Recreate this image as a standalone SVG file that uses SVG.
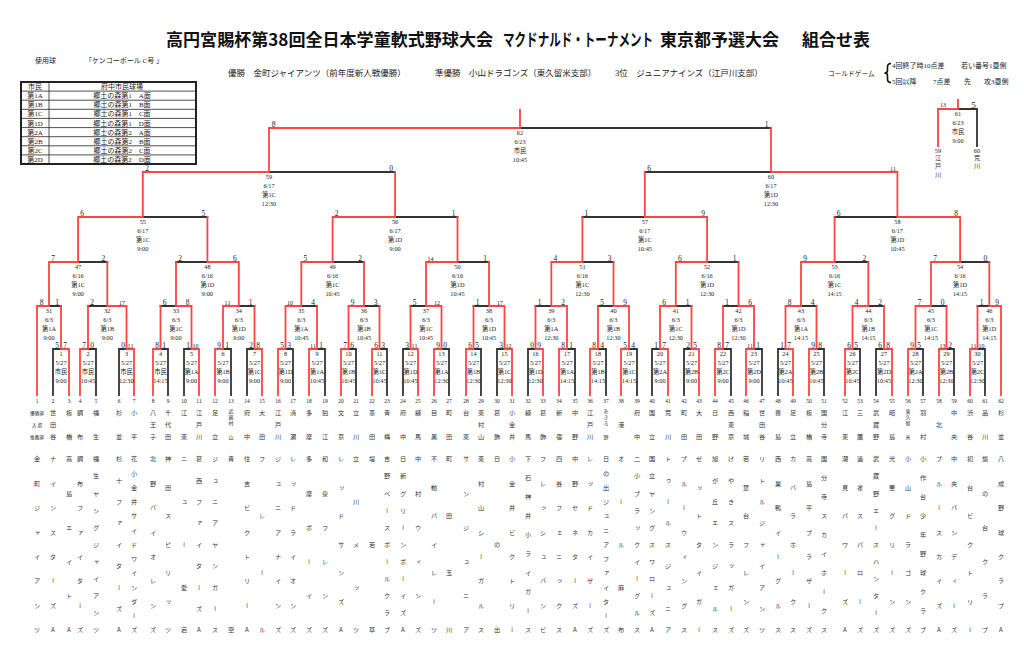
<svg xmlns="http://www.w3.org/2000/svg" width="1024" height="645" viewBox="0 0 1024 645">
<style>
text{font-family:"Liberation Serif","Noto Sans CJK JP",serif;fill:#222}
.ttl{font-family:"Noto Sans CJK JP",sans-serif;font-weight:bold;font-size:17px;fill:#111}
.h{font-size:8.5px}
.h7{font-size:7px}
.m{font-size:6.3px;text-anchor:middle}
.s{font-size:7.5px;text-anchor:middle}
.s2{font-size:6px;text-anchor:middle}
.s9{font-size:9px;text-anchor:middle}
.n{font-size:5.5px;text-anchor:middle}
.v{font-family:"Noto Sans CJK JP",sans-serif;font-size:6.2px;writing-mode:vertical-rl;text-orientation:upright;text-anchor:middle;fill:#333}
.v4{font-size:5px}
.lb{font-family:"Noto Sans CJK JP",sans-serif;font-size:4.6px;text-anchor:middle}
.tc{font-size:7px;text-anchor:middle}
.r{fill:none;stroke:#f44;stroke-width:1.8;stroke-linecap:square}
.k{fill:none;stroke:#333;stroke-width:1.8;stroke-linecap:square}
.tb{fill:none;stroke:#222;stroke-width:0.8}
.tbo{fill:none;stroke:#222;stroke-width:2}
</style>
<rect width="1024" height="645" fill="#fff"/>

<g id="header">
<text class="ttl" x="166" y="46" textLength="327" lengthAdjust="spacingAndGlyphs">高円宮賜杯第38回全日本学童軟式野球大会</text>
<text class="ttl" transform="translate(503 46) scale(0.68 1)" x="0" y="0">マクドナルド・トーナメント</text>
<text class="ttl" x="660" y="46">東京都予選大会</text>
<text class="ttl" x="802" y="46">組合せ表</text>
<text class="h7" x="35" y="62.5">使用球</text>
<text class="h7" x="85" y="62.5">「ケンコーボール C号 」</text>
<text class="h" x="228" y="76">優勝　金町ジャイアンツ（前年度新人戦優勝）</text>
<text class="h" x="435" y="76">準優勝　小山ドラゴンズ（東久留米支部）</text>
<text class="h" x="615" y="76">3位　ジュニアナインズ（江戸川支部）</text>
<text x="828" y="75.5" style="font-size:6.7px">コールドゲーム</text>
<path d="M891 63.5Q887.5 63.5 887.5 67V70.5Q887.5 73 884.5 73Q887.5 73 887.5 75.5V79Q887.5 82.5 891 82.5" fill="none" stroke="#111" stroke-width="1.6"/>
<text class="h7" x="892" y="67.5">4回終了時10点差</text>
<text class="h7" x="961" y="67.5">若い番号1塁側</text>
<text class="h7" x="892" y="83.5">5回以降</text>
<text class="h7" x="933" y="83.5">7点差</text>
<text class="h7" x="964" y="83.5">先</text>
<text class="h7" x="984" y="83.5">攻3塁側</text>
</g>

<g id="venue-table">
<rect class="tbo" x="21" y="82" width="175" height="82"/>
<path class="tb" d="M49 82V164M21 91.1H196M21 100.2H196M21 109.3H196M21 118.4H196M21 127.6H196M21 136.7H196M21 145.8H196M21 154.9H196"/>
<text class="tc" x="35" y="89.1">市民</text><text class="tc" x="122" y="89.1">府中市民球場</text>
<text class="tc" x="35" y="98.2">第1A</text><text class="tc" x="122" y="98.2">郷土の森第1　A面</text>
<text class="tc" x="35" y="107.3">第1B</text><text class="tc" x="122" y="107.3">郷土の森第1　B面</text>
<text class="tc" x="35" y="116.4">第1C</text><text class="tc" x="122" y="116.4">郷土の森第1　C面</text>
<text class="tc" x="35" y="125.5">第1D</text><text class="tc" x="122" y="125.5">郷土の森第1　D面</text>
<text class="tc" x="35" y="134.6">第2A</text><text class="tc" x="122" y="134.6">郷土の森第2　A面</text>
<text class="tc" x="35" y="143.7">第2B</text><text class="tc" x="122" y="143.7">郷土の森第2　B面</text>
<text class="tc" x="35" y="152.8">第2C</text><text class="tc" x="122" y="152.8">郷土の森第2　C面</text>
<text class="tc" x="35" y="161.9">第2D</text><text class="tc" x="122" y="161.9">郷土の森第2　D面</text>
</g>

<g id="connectors">
<path class="k" d="M520 128H771M958 109H977V146M269 172H395.1M644.8 172H771M142.8 217H207.4M395.1 217H457.5M582.4 217H644.8M834.6 217H897.4M78.1 262H107.3M176 262H207.4M332.6 262H364M457.5 262H489M582.4 262H613.5M707.1 262H738.5M834.6 262H868.3M960.1 262H989.3M49 306H61M88 306H107.3M160.5 306H176M238.8 306H254.5M301.3 306H317M364 306H379.5M410.5 306H426M473.5 306H489M535.5 306H551.3M598 306H613.5M675.8 306H691.5M723 306H738.5M801 306H816.5M868.3 306H884M931 306H946.5M977.5 306H989.3M61 349H53V395M88 349H96V395M126.5 349H119V395M160.5 349H168V395M191.5 349H184V395M223 349H231V395M254.5 349H247V395M285.5 349H293V395M317 349H325V395M348.5 349H356V395M379.5 349H387V395M410.5 349H403V395M441.5 349H449V395M473.5 349H481V395M504.5 349H497V395M535.5 349H528V395M567 349H575V395M598 349H606V395M629 349H637V395M660 349H652V395M691.5 349H684V395M723 349H731V395M754 349H762V395M785.5 349H778V395M816.5 349H824V395M852.5 349H860V395M884 349H876V395M915.5 349H923V395M946.5 349H954V395M977.5 349H985V395"/>
<path class="r" d="M269 172V128H520V110M771 172V128M938 146V109H958V100M142.8 217V172H269M395.1 217V172M644.8 217V172M897.4 217V172H771M78.1 262V217H142.8M207.4 262V217M332.6 262V217H395.1M457.5 262V217M582.4 262V217M707.1 262V217H644.8M834.6 262V217M960.1 262V217H897.4M49 306V262H78.1M107.3 306V262M176 306V262M238.8 306V262H207.4M301.3 306V262H332.6M364 306V262M426 306V262H457.5M489 306V262M551.3 306V262H582.4M613.5 306V262M675.8 306V262H707.1M738.5 306V262M801 306V262H834.6M868.3 306V262M931 306V262H960.1M989.3 306V262M37 395V306H49M61 349V306M88 349V306M126.5 349V306H107.3M160.5 349V306M191.5 349V306H176M223 349V306H238.8M254.5 349V306M285.5 349V306H301.3M317 349V306M348.5 349V306H364M379.5 349V306M410.5 349V306M441.5 349V306H426M473.5 349V306M504.5 349V306H489M535.5 349V306M567 349V306H551.3M598 349V306M629 349V306H613.5M660 349V306H675.8M691.5 349V306M723 349V306M754 349V306H738.5M785.5 349V306H801M816.5 349V306M852.5 349V306H868.3M884 349V306M915.5 349V306H931M946.5 349V306M977.5 349V306M1001 395V306H989.3M69 395V349H61M80 395V349H88M134 395V349H126.5M153 395V349H160.5M199 395V349H191.5M215 395V349H223M262 395V349H254.5M278 395V349H285.5M309 395V349H317M341 395V349H348.5M372 395V349H379.5M418 395V349H410.5M434 395V349H441.5M466 395V349H473.5M512 395V349H504.5M543 395V349H535.5M559 395V349H567M590 395V349H598M621 395V349H629M668 395V349H660M699 395V349H691.5M715 395V349H723M746 395V349H754M793 395V349H785.5M809 395V349H816.5M845 395V349H852.5M892 395V349H884M908 395V349H915.5M939 395V349H946.5M970 395V349H977.5"/>
</g>

<g id="m62"><text class="m" y="134.5"><tspan x="520">62</tspan><tspan x="520" dy="9">6/23</tspan><tspan x="520" dy="9">市民</tspan><tspan x="520" dy="9">10:45</tspan></text><text class="s" x="273.5" y="126.5">8</text><text class="s" x="766.5" y="126.5">1</text></g>
<g id="m61"><text class="m" y="115.5"><tspan x="958">61</tspan><tspan x="958" dy="9">6/23</tspan><tspan x="958" dy="9">市民</tspan><tspan x="958" dy="9">9:00</tspan></text><text class="s2" x="943" y="107">13</text><text class="s9" x="973.5" y="107.5">5</text>
<text class="m" x="938" y="152.5">59</text><text class="v" x="938" y="157.5 166 174.5">江戸川</text>
<text class="m" x="977" y="152.5">60</text><text class="v" x="977" y="157.5 166">荒川</text></g>
<g id="m59"><text class="m" y="178.5"><tspan x="269">59</tspan><tspan x="269" dy="9">6/17</tspan><tspan x="269" dy="9">第1C</tspan><tspan x="269" dy="9">12:30</tspan></text><text class="s" x="147" y="170.5">2</text><text class="s" x="391" y="170.5">0</text></g>
<g id="m60"><text class="m" y="178.5"><tspan x="771">60</tspan><tspan x="771" dy="9">6/17</tspan><tspan x="771" dy="9">第1D</tspan><tspan x="771" dy="9">12:30</tspan></text><text class="s" x="649" y="170.5">6</text><text class="s2" x="893" y="170.5">11</text></g>
<g id="m55"><text class="m" y="223.5"><tspan x="142.8">55</tspan><tspan x="142.8" dy="9">6/17</tspan><tspan x="142.8" dy="9">第1C</tspan><tspan x="142.8" dy="9">9:00</tspan></text><text class="s" x="82" y="215.5">6</text><text class="s" x="203.4" y="215.5">5</text></g>
<g id="m56"><text class="m" y="223.5"><tspan x="395.1">56</tspan><tspan x="395.1" dy="9">6/17</tspan><tspan x="395.1" dy="9">第1D</tspan><tspan x="395.1" dy="9">9:00</tspan></text><text class="s" x="336.6" y="215.5">2</text><text class="s" x="453.5" y="215.5">1</text></g>
<g id="m57"><text class="m" y="223.5"><tspan x="644.8">57</tspan><tspan x="644.8" dy="9">6/17</tspan><tspan x="644.8" dy="9">第1C</tspan><tspan x="644.8" dy="9">10:45</tspan></text><text class="s" x="586.4" y="215.5">1</text><text class="s" x="703.1" y="215.5">9</text></g>
<g id="m58"><text class="m" y="223.5"><tspan x="897.4">58</tspan><tspan x="897.4" dy="9">6/17</tspan><tspan x="897.4" dy="9">第1D</tspan><tspan x="897.4" dy="9">10:45</tspan></text><text class="s" x="838.6" y="215.5">6</text><text class="s" x="956.1" y="215.5">8</text></g>
<g id="m47"><text class="m" y="268.5"><tspan x="78.1">47</tspan><tspan x="78.1" dy="9">6/16</tspan><tspan x="78.1" dy="9">第1C</tspan><tspan x="78.1" dy="9">9:00</tspan></text><text class="s" x="53" y="260.5">7</text><text class="s" x="103.3" y="260.5">2</text></g>
<g id="m48"><text class="m" y="268.5"><tspan x="207.4">48</tspan><tspan x="207.4" dy="9">6/16</tspan><tspan x="207.4" dy="9">第1D</tspan><tspan x="207.4" dy="9">9:00</tspan></text><text class="s" x="180" y="260.5">2</text><text class="s" x="234.8" y="260.5">6</text></g>
<g id="m49"><text class="m" y="268.5"><tspan x="332.6">49</tspan><tspan x="332.6" dy="9">6/16</tspan><tspan x="332.6" dy="9">第1C</tspan><tspan x="332.6" dy="9">10:45</tspan></text><text class="s" x="305.3" y="260.5">5</text><text class="s" x="360" y="260.5">2</text></g>
<g id="m50"><text class="m" y="268.5"><tspan x="457.5">50</tspan><tspan x="457.5" dy="9">6/16</tspan><tspan x="457.5" dy="9">第1D</tspan><tspan x="457.5" dy="9">10:45</tspan></text><text class="s2" x="430.5" y="260.5">14</text><text class="s" x="485" y="260.5">1</text></g>
<g id="m51"><text class="m" y="268.5"><tspan x="582.4">51</tspan><tspan x="582.4" dy="9">6/16</tspan><tspan x="582.4" dy="9">第1C</tspan><tspan x="582.4" dy="9">12:30</tspan></text><text class="s" x="555.3" y="260.5">4</text><text class="s" x="609.5" y="260.5">3</text></g>
<g id="m52"><text class="m" y="268.5"><tspan x="707.1">52</tspan><tspan x="707.1" dy="9">6/16</tspan><tspan x="707.1" dy="9">第1D</tspan><tspan x="707.1" dy="9">12:30</tspan></text><text class="s" x="679.8" y="260.5">6</text><text class="s" x="734.5" y="260.5">1</text></g>
<g id="m53"><text class="m" y="268.5"><tspan x="834.6">53</tspan><tspan x="834.6" dy="9">6/16</tspan><tspan x="834.6" dy="9">第1C</tspan><tspan x="834.6" dy="9">14:15</tspan></text><text class="s" x="805" y="260.5">9</text><text class="s" x="864.3" y="260.5">2</text></g>
<g id="m54"><text class="m" y="268.5"><tspan x="960.1">54</tspan><tspan x="960.1" dy="9">6/16</tspan><tspan x="960.1" dy="9">第1D</tspan><tspan x="960.1" dy="9">14:15</tspan></text><text class="s" x="935" y="260.5">7</text><text class="s" x="985.3" y="260.5">0</text></g>
<g id="m31"><text class="m" y="312.5"><tspan x="49">31</tspan><tspan x="49" dy="9">6/3</tspan><tspan x="49" dy="9">第1A</tspan><tspan x="49" dy="9">9:00</tspan></text><text class="s" x="41.5" y="304.5">8</text><text class="s" x="57" y="304.5">1</text></g>
<g id="m32"><text class="m" y="312.5"><tspan x="107.3">32</tspan><tspan x="107.3" dy="9">6/3</tspan><tspan x="107.3" dy="9">第1B</tspan><tspan x="107.3" dy="9">9:00</tspan></text><text class="s" x="92" y="304.5">2</text><text class="s2" x="122" y="304.5">17</text></g>
<g id="m33"><text class="m" y="312.5"><tspan x="176">33</tspan><tspan x="176" dy="9">6/3</tspan><tspan x="176" dy="9">第1C</tspan><tspan x="176" dy="9">9:00</tspan></text><text class="s" x="164.5" y="304.5">6</text><text class="s" x="187.5" y="304.5">8</text></g>
<g id="m34"><text class="m" y="312.5"><tspan x="238.8">34</tspan><tspan x="238.8" dy="9">6/3</tspan><tspan x="238.8" dy="9">第1D</tspan><tspan x="238.8" dy="9">9:00</tspan></text><text class="s2" x="227.5" y="304.5">11</text><text class="s" x="250.5" y="304.5">1</text></g>
<g id="m35"><text class="m" y="312.5"><tspan x="301.3">35</tspan><tspan x="301.3" dy="9">6/3</tspan><tspan x="301.3" dy="9">第1A</tspan><tspan x="301.3" dy="9">10:45</tspan></text><text class="s2" x="290" y="304.5">10</text><text class="s" x="313" y="304.5">4</text></g>
<g id="m36"><text class="m" y="312.5"><tspan x="364">36</tspan><tspan x="364" dy="9">6/3</tspan><tspan x="364" dy="9">第1B</tspan><tspan x="364" dy="9">10:45</tspan></text><text class="s" x="352.5" y="304.5">9</text><text class="s" x="375.5" y="304.5">3</text></g>
<g id="m37"><text class="m" y="312.5"><tspan x="426">37</tspan><tspan x="426" dy="9">6/3</tspan><tspan x="426" dy="9">第1C</tspan><tspan x="426" dy="9">10:45</tspan></text><text class="s" x="414.5" y="304.5">5</text><text class="s2" x="437" y="304.5">12</text></g>
<g id="m38"><text class="m" y="312.5"><tspan x="489">38</tspan><tspan x="489" dy="9">6/3</tspan><tspan x="489" dy="9">第1D</tspan><tspan x="489" dy="9">10:45</tspan></text><text class="s" x="477.5" y="304.5">1</text><text class="s2" x="500" y="304.5">17</text></g>
<g id="m39"><text class="m" y="312.5"><tspan x="551.3">39</tspan><tspan x="551.3" dy="9">6/3</tspan><tspan x="551.3" dy="9">第1A</tspan><tspan x="551.3" dy="9">12:30</tspan></text><text class="s" x="539.5" y="304.5">1</text><text class="s" x="563" y="304.5">2</text></g>
<g id="m40"><text class="m" y="312.5"><tspan x="613.5">40</tspan><tspan x="613.5" dy="9">6/3</tspan><tspan x="613.5" dy="9">第1B</tspan><tspan x="613.5" dy="9">12:30</tspan></text><text class="s" x="602" y="304.5">5</text><text class="s" x="625" y="304.5">9</text></g>
<g id="m41"><text class="m" y="312.5"><tspan x="675.8">41</tspan><tspan x="675.8" dy="9">6/3</tspan><tspan x="675.8" dy="9">第1C</tspan><tspan x="675.8" dy="9">12:30</tspan></text><text class="s" x="664" y="304.5">6</text><text class="s" x="687.5" y="304.5">1</text></g>
<g id="m42"><text class="m" y="312.5"><tspan x="738.5">42</tspan><tspan x="738.5" dy="9">6/3</tspan><tspan x="738.5" dy="9">第1D</tspan><tspan x="738.5" dy="9">12:30</tspan></text><text class="s" x="727" y="304.5">1</text><text class="s" x="750" y="304.5">6</text></g>
<g id="m43"><text class="m" y="312.5"><tspan x="801">43</tspan><tspan x="801" dy="9">6/3</tspan><tspan x="801" dy="9">第1A</tspan><tspan x="801" dy="9">14:15</tspan></text><text class="s" x="789.5" y="304.5">8</text><text class="s" x="812.5" y="304.5">4</text></g>
<g id="m44"><text class="m" y="312.5"><tspan x="868.3">44</tspan><tspan x="868.3" dy="9">6/3</tspan><tspan x="868.3" dy="9">第1B</tspan><tspan x="868.3" dy="9">14:15</tspan></text><text class="s" x="856.5" y="304.5">4</text><text class="s" x="880" y="304.5">2</text></g>
<g id="m45"><text class="m" y="312.5"><tspan x="931">45</tspan><tspan x="931" dy="9">6/3</tspan><tspan x="931" dy="9">第1C</tspan><tspan x="931" dy="9">14:15</tspan></text><text class="s" x="919.5" y="304.5">7</text><text class="s" x="942.5" y="304.5">0</text></g>
<g id="m46"><text class="m" y="312.5"><tspan x="989.3">46</tspan><tspan x="989.3" dy="9">6/3</tspan><tspan x="989.3" dy="9">第1D</tspan><tspan x="989.3" dy="9">14:15</tspan></text><text class="s" x="981.5" y="304.5">1</text><text class="s" x="997" y="304.5">9</text></g>

<g id="m1"><text class="m" y="355.5"><tspan x="61">1</tspan><tspan x="61" dy="9">5/27</tspan><tspan x="61" dy="9">市民</tspan><tspan x="61" dy="9">9:00</tspan></text><text class="s" x="57" y="347.5">5</text><text class="s" x="65" y="347.5">7</text></g>
<g id="m2"><text class="m" y="355.5"><tspan x="88">2</tspan><tspan x="88" dy="9">5/27</tspan><tspan x="88" dy="9">市民</tspan><tspan x="88" dy="9">10:45</tspan></text><text class="s" x="84" y="347.5">7</text><text class="s" x="92" y="347.5">0</text></g>
<g id="m3"><text class="m" y="355.5"><tspan x="126.5">3</tspan><tspan x="126.5" dy="9">5/27</tspan><tspan x="126.5" dy="9">市民</tspan><tspan x="126.5" dy="9">12:30</tspan></text><text class="s" x="123" y="347.5">0</text><text class="s2" x="130.5" y="347.5">11</text></g>
<g id="m4"><text class="m" y="355.5"><tspan x="160.5">4</tspan><tspan x="160.5" dy="9">5/27</tspan><tspan x="160.5" dy="9">市民</tspan><tspan x="160.5" dy="9">14:15</tspan></text><text class="s" x="157" y="347.5">8</text><text class="s" x="164" y="347.5">1</text></g>
<g id="m5"><text class="m" y="355.5"><tspan x="191.5">5</tspan><tspan x="191.5" dy="9">5/27</tspan><tspan x="191.5" dy="9">第1A</tspan><tspan x="191.5" dy="9">9:00</tspan></text><text class="s" x="188" y="347.5">1</text><text class="s2" x="195.5" y="347.5">10</text></g>
<g id="m6"><text class="m" y="355.5"><tspan x="223">6</tspan><tspan x="223" dy="9">5/27</tspan><tspan x="223" dy="9">第1B</tspan><tspan x="223" dy="9">9:00</tspan></text><text class="s" x="219" y="347.5">9</text><text class="s" x="227" y="347.5">1</text></g>
<g id="m7"><text class="m" y="355.5"><tspan x="254.5">7</tspan><tspan x="254.5" dy="9">5/27</tspan><tspan x="254.5" dy="9">第1C</tspan><tspan x="254.5" dy="9">9:00</tspan></text><text class="s" x="251" y="347.5">2</text><text class="s" x="258" y="347.5">8</text></g>
<g id="m8"><text class="m" y="355.5"><tspan x="285.5">8</tspan><tspan x="285.5" dy="9">5/27</tspan><tspan x="285.5" dy="9">第1D</tspan><tspan x="285.5" dy="9">9:00</tspan></text><text class="s" x="282" y="347.5">5</text><text class="s" x="289" y="347.5">3</text></g>
<g id="m9"><text class="m" y="355.5"><tspan x="317">9</tspan><tspan x="317" dy="9">5/27</tspan><tspan x="317" dy="9">第1A</tspan><tspan x="317" dy="9">10:45</tspan></text><text class="s2" x="313" y="347.5">11</text><text class="s" x="321" y="347.5">1</text></g>
<g id="m10"><text class="m" y="355.5"><tspan x="348.5">10</tspan><tspan x="348.5" dy="9">5/27</tspan><tspan x="348.5" dy="9">第1B</tspan><tspan x="348.5" dy="9">10:45</tspan></text><text class="s" x="345" y="347.5">7</text><text class="s" x="352" y="347.5">6</text></g>
<g id="m11"><text class="m" y="355.5"><tspan x="379.5">11</tspan><tspan x="379.5" dy="9">5/27</tspan><tspan x="379.5" dy="9">第1C</tspan><tspan x="379.5" dy="9">10:45</tspan></text><text class="s" x="376" y="347.5">6</text><text class="s" x="383" y="347.5">3</text></g>
<g id="m12"><text class="m" y="355.5"><tspan x="410.5">12</tspan><tspan x="410.5" dy="9">5/27</tspan><tspan x="410.5" dy="9">第1D</tspan><tspan x="410.5" dy="9">10:45</tspan></text><text class="s" x="407" y="347.5">3</text><text class="s2" x="414.5" y="347.5">11</text></g>
<g id="m13"><text class="m" y="355.5"><tspan x="441.5">13</tspan><tspan x="441.5" dy="9">5/27</tspan><tspan x="441.5" dy="9">第1A</tspan><tspan x="441.5" dy="9">12:30</tspan></text><text class="s" x="438" y="347.5">9</text><text class="s" x="445" y="347.5">0</text></g>
<g id="m14"><text class="m" y="355.5"><tspan x="473.5">14</tspan><tspan x="473.5" dy="9">5/27</tspan><tspan x="473.5" dy="9">第1B</tspan><tspan x="473.5" dy="9">12:30</tspan></text><text class="s" x="470" y="347.5">6</text><text class="s" x="477" y="347.5">5</text></g>
<g id="m15"><text class="m" y="355.5"><tspan x="504.5">15</tspan><tspan x="504.5" dy="9">5/27</tspan><tspan x="504.5" dy="9">第1C</tspan><tspan x="504.5" dy="9">12:30</tspan></text><text class="s" x="501" y="347.5">3</text><text class="s2" x="508.5" y="347.5">12</text></g>
<g id="m16"><text class="m" y="355.5"><tspan x="535.5">16</tspan><tspan x="535.5" dy="9">5/27</tspan><tspan x="535.5" dy="9">第1D</tspan><tspan x="535.5" dy="9">12:30</tspan></text><text class="s" x="532" y="347.5">0</text><text class="s" x="539" y="347.5">9</text></g>
<g id="m17"><text class="m" y="355.5"><tspan x="567">17</tspan><tspan x="567" dy="9">5/27</tspan><tspan x="567" dy="9">第1A</tspan><tspan x="567" dy="9">14:15</tspan></text><text class="s" x="563" y="347.5">8</text><text class="s" x="571" y="347.5">1</text></g>
<g id="m18"><text class="m" y="355.5"><tspan x="598">18</tspan><tspan x="598" dy="9">5/27</tspan><tspan x="598" dy="9">第1B</tspan><tspan x="598" dy="9">14:15</tspan></text><text class="s" x="594" y="347.5">8</text><text class="s" x="602" y="347.5">4</text></g>
<g id="m19"><text class="m" y="355.5"><tspan x="629">19</tspan><tspan x="629" dy="9">5/27</tspan><tspan x="629" dy="9">第1C</tspan><tspan x="629" dy="9">14:15</tspan></text><text class="s" x="625" y="347.5">5</text><text class="s" x="633" y="347.5">4</text></g>
<g id="m20"><text class="m" y="355.5"><tspan x="660">20</tspan><tspan x="660" dy="9">5/27</tspan><tspan x="660" dy="9">第2A</tspan><tspan x="660" dy="9">9:00</tspan></text><text class="s" x="656" y="347.5">1</text><text class="s" x="664" y="347.5">7</text></g>
<g id="m21"><text class="m" y="355.5"><tspan x="691.5">21</tspan><tspan x="691.5" dy="9">5/27</tspan><tspan x="691.5" dy="9">第2B</tspan><tspan x="691.5" dy="9">9:00</tspan></text><text class="s" x="688" y="347.5">2</text><text class="s" x="695" y="347.5">5</text></g>
<g id="m22"><text class="m" y="355.5"><tspan x="723">22</tspan><tspan x="723" dy="9">5/27</tspan><tspan x="723" dy="9">第2C</tspan><tspan x="723" dy="9">9:00</tspan></text><text class="s" x="719" y="347.5">8</text><text class="s" x="727" y="347.5">7</text></g>
<g id="m23"><text class="m" y="355.5"><tspan x="754">23</tspan><tspan x="754" dy="9">5/27</tspan><tspan x="754" dy="9">第2D</tspan><tspan x="754" dy="9">9:00</tspan></text><text class="s2" x="750" y="347.5">11</text><text class="s" x="758" y="347.5">1</text></g>
<g id="m24"><text class="m" y="355.5"><tspan x="785.5">24</tspan><tspan x="785.5" dy="9">5/27</tspan><tspan x="785.5" dy="9">第2A</tspan><tspan x="785.5" dy="9">10:45</tspan></text><text class="s" x="782" y="347.5">1</text><text class="s" x="789" y="347.5">7</text></g>
<g id="m25"><text class="m" y="355.5"><tspan x="816.5">25</tspan><tspan x="816.5" dy="9">5/27</tspan><tspan x="816.5" dy="9">第2B</tspan><tspan x="816.5" dy="9">10:45</tspan></text><text class="s" x="813" y="347.5">9</text><text class="s" x="820" y="347.5">8</text></g>
<g id="m26"><text class="m" y="355.5"><tspan x="852.5">26</tspan><tspan x="852.5" dy="9">5/27</tspan><tspan x="852.5" dy="9">第2C</tspan><tspan x="852.5" dy="9">10:45</tspan></text><text class="s" x="849" y="347.5">6</text><text class="s" x="856" y="347.5">5</text></g>
<g id="m27"><text class="m" y="355.5"><tspan x="884">27</tspan><tspan x="884" dy="9">5/27</tspan><tspan x="884" dy="9">第2D</tspan><tspan x="884" dy="9">10:45</tspan></text><text class="s" x="880" y="347.5">6</text><text class="s" x="888" y="347.5">8</text></g>
<g id="m28"><text class="m" y="355.5"><tspan x="915.5">28</tspan><tspan x="915.5" dy="9">5/27</tspan><tspan x="915.5" dy="9">第2A</tspan><tspan x="915.5" dy="9">12:30</tspan></text><text class="s" x="912" y="347.5">9</text><text class="s" x="919" y="347.5">5</text></g>
<g id="m29"><text class="m" y="355.5"><tspan x="946.5">29</tspan><tspan x="946.5" dy="9">5/27</tspan><tspan x="946.5" dy="9">第2B</tspan><tspan x="946.5" dy="9">12:30</tspan></text><text class="s2" x="942.5" y="347.5">13</text><text class="s" x="950" y="347.5">2</text></g>
<g id="m30"><text class="m" y="355.5"><tspan x="977.5">30</tspan><tspan x="977.5" dy="9">5/27</tspan><tspan x="977.5" dy="9">第2C</tspan><tspan x="977.5" dy="9">12:30</tspan></text><text class="s2" x="973.5" y="347.5">11</text><text class="s2" x="981.5" y="347.5">10</text></g>

<g id="team-1"><text class="n" x="37" y="403">1</text><text class="lb" x="37" y="414.5">優勝旗</text><text class="lb" x="37" y="426.5">入 場</text><text class="lb" x="37" y="438.5">推薦旗</text><text class="v" x="37" y="459 483.4 507.9 532.3 556.7 581.1 605.6 630">金町ジャイアンツ</text></g>
<g id="team-2"><text class="n" x="53" y="403">2</text><text class="v" x="53" y="413 425 437">世田谷</text><text class="v" x="53" y="459 483.4 507.9 532.3 556.7 581.1 605.6 630">ナインスターズA</text></g>
<g id="team-3"><text class="n" x="69" y="403">3</text><text class="v" x="69" y="413 437">板橋</text><text class="v" x="69" y="459 493.2 527.4 561.6 595.8 630">高島エイトA</text></g>
<g id="team-4"><text class="n" x="80" y="403">4</text><text class="v" x="80" y="413 437">調布</text><text class="v" x="80" y="459 483.4 507.9 532.3 556.7 581.1 605.6 630">調布ファイターズ</text></g>
<g id="team-5"><text class="n" x="96" y="403">5</text><text class="v" x="96" y="413 437">福生</text><text class="v" x="96" y="459 476.1 493.2 510.3 527.4 544.5 561.6 578.7 595.8 612.9 630">福生ヤングジャイアンツ</text></g>
<g id="team-6"><text class="n" x="119" y="403">6</text><text class="v" x="119" y="413 437">杉並</text><text class="v" x="119" y="459 480.4 501.8 523.1 544.5 565.9 587.3 608.6 630">杉十ファイターズA</text></g>
<g id="team-7"><text class="n" x="134" y="403">7</text><text class="v" x="134" y="413 437">小平</text><text class="v" x="134" y="459 473.3 487.5 501.8 516 530.3 544.5 558.8 573 587.3 601.5 615.8 630">花小金井サイドワインダーズ</text></g>
<g id="team-8"><text class="n" x="153" y="403">8</text><text class="v" x="153" y="413 425 437">八王子</text><text class="v" x="153" y="459 483.4 507.9 532.3 556.7 581.1 605.6 630">北野バイオレンズ</text></g>
<g id="team-9"><text class="n" x="168" y="403">9</text><text class="v" x="168" y="413 425 437">千代田</text><text class="v" x="168" y="459 487.5 516 544.5 573 601.5 630">神田スピリッツ</text></g>
<g id="team-10"><text class="n" x="184" y="403">10</text><text class="v" x="184" y="413 437">江東</text><text class="v" x="184" y="459 501.8 544.5 587.3 630">ニュー愛宕</text></g>
<g id="team-11"><text class="n" x="199" y="403">11</text><text class="v" x="199" y="413 425 437">江戸川</text><text class="v" x="199" y="459 480.4 501.8 523.1 544.5 565.9 587.3 608.6 630">葛西ファイターズA</text></g>
<g id="team-12"><text class="n" x="215" y="403">12</text><text class="v" x="215" y="413 437">足立</text><text class="v" x="215" y="459 480.4 501.8 523.1 544.5 565.9 587.3 608.6 630">ジュニアヤンガース</text></g>
<g id="team-13"><text class="n" x="231" y="403">13</text><text class="v v4" x="231" y="411.5 417.5 423.5 437">武蔵村山</text><text class="v" x="231" y="459 630">青空</text></g>
<g id="team-14"><text class="n" x="247" y="403">14</text><text class="v" x="247" y="413 437">府中</text><text class="v" x="247" y="459 483.4 507.9 532.3 556.7 581.1 605.6 630">住吉ビクトリーA</text></g>
<g id="team-15"><text class="n" x="262" y="403">15</text><text class="v" x="262" y="413 437">大田</text><text class="v" x="262" y="459 516 573 630">フレール</text></g>
<g id="team-16"><text class="n" x="278" y="403">16</text><text class="v" x="278" y="413 425 437">江戸川</text><text class="v" x="278" y="459 483.4 507.9 532.3 556.7 581.1 605.6 630">ジュニアナインズ</text></g>
<g id="team-17"><text class="n" x="293" y="403">17</text><text class="v" x="293" y="413 437">清瀬</text><text class="v" x="293" y="459 483.4 507.9 532.3 556.7 581.1 605.6 630">レッドライオンズ</text></g>
<g id="team-18"><text class="n" x="309" y="403">18</text><text class="v" x="309" y="413 437">多摩</text><text class="v" x="309" y="459 493.2 527.4 561.6 595.8 630">多摩ボーイズ</text></g>
<g id="team-19"><text class="n" x="325" y="403">19</text><text class="v" x="325" y="413 437">狛江</text><text class="v" x="325" y="459 493.2 527.4 561.6 595.8 630">和泉フレンズ</text></g>
<g id="team-20"><text class="n" x="341" y="403">20</text><text class="v" x="341" y="413 437">文京</text><text class="v" x="341" y="459 487.5 516 544.5 573 601.5 630">レッドサンズA</text></g>
<g id="team-21"><text class="n" x="356" y="403">21</text><text class="v" x="356" y="413 437">立川</text><text class="v" x="356" y="459 501.8 544.5 587.3 630">立川メッツ</text></g>
<g id="team-22"><text class="n" x="372" y="403">22</text><text class="v" x="372" y="413 437">墨田</text><text class="v" x="372" y="459 544.5 630">堤若草</text></g>
<g id="team-23"><text class="n" x="387" y="403">23</text><text class="v" x="387" y="413 437">青梅</text><text class="v" x="387" y="459 476.1 493.2 510.3 527.4 544.5 561.6 578.7 595.8 612.9 630">吉野ベースボールクラブ</text></g>
<g id="team-24"><text class="n" x="403" y="403">24</text><text class="v" x="403" y="413 437">府中</text><text class="v" x="403" y="459 476.1 493.2 510.3 527.4 544.5 561.6 578.7 595.8 612.9 630">日新グリーンボーイズA</text></g>
<g id="team-25"><text class="n" x="418" y="403">25</text><text class="v" x="418" y="413 437">練馬</text><text class="v" x="418" y="459 493.2 527.4 561.6 595.8 630">中村ウィンズ</text></g>
<g id="team-26"><text class="n" x="434" y="403">26</text><text class="v" x="434" y="413 437">目黒</text><text class="v" x="434" y="459 487.5 516 544.5 573 601.5 630">不動パイレーツ</text></g>
<g id="team-27"><text class="n" x="449" y="403">27</text><text class="v" x="449" y="413 437">町田</text><text class="v" x="449" y="459 516 573 630">町田玉川</text></g>
<g id="team-28"><text class="n" x="466" y="403">28</text><text class="v" x="466" y="413 437">台東</text><text class="v" x="466" y="459 493.2 527.4 561.6 595.8 630">サンジュニア</text></g>
<g id="team-29"><text class="n" x="481" y="403">29</text><text class="v" x="481" y="413 425 437">東村山</text><text class="v" x="481" y="459 483.4 507.9 532.3 556.7 581.1 605.6 630">東村山シーガルス</text></g>
<g id="team-30"><text class="n" x="497" y="403">30</text><text class="v" x="497" y="413 437">葛飾</text><text class="v" x="497" y="459 544.5 630">日の出</text></g>
<g id="team-31"><text class="n" x="512" y="403">31</text><text class="v" x="512" y="413 425 437">小金井</text><text class="v" x="512" y="459 483.4 507.9 532.3 556.7 581.1 605.6 630">小金井ビクトリー</text></g>
<g id="team-32"><text class="n" x="528" y="403">32</text><text class="v" x="528" y="413 437">練馬</text><text class="v" x="528" y="459 478 497 516 535 554 573 592 611 630">下石神井小ライガース</text></g>
<g id="team-33"><text class="n" x="543" y="403">33</text><text class="v" x="543" y="413 437">葛飾</text><text class="v" x="543" y="459 483.4 507.9 532.3 556.7 581.1 605.6 630">フレッシュバンビ</text></g>
<g id="team-34"><text class="n" x="559" y="403">34</text><text class="v" x="559" y="413 437">新宿</text><text class="v" x="559" y="459 483.4 507.9 532.3 556.7 581.1 605.6 630">四谷フェニックス</text></g>
<g id="team-35"><text class="n" x="575" y="403">35</text><text class="v" x="575" y="413 437">中野</text><text class="v" x="575" y="459 483.4 507.9 532.3 556.7 581.1 605.6 630">中野セネターズA</text></g>
<g id="team-36"><text class="n" x="590" y="403">36</text><text class="v" x="590" y="413 425 437">江戸川</text><text class="v" x="590" y="459 483.4 507.9 532.3 556.7 581.1 605.6 630">レッドカイザーズ</text></g>
<g id="team-37"><text class="n" x="606" y="403">37</text><text class="v v4" x="606" y="411.5 417.5 423.5 437">あきる野</text><text class="v" x="606" y="459 473.3 487.5 501.8 516 530.3 544.5 558.8 573 587.3 601.5 615.8 630">日の出ジュニアファイターズ</text></g>
<g id="team-38"><text class="n" x="621" y="403">38</text><text class="v" x="621" y="425">港</text><text class="v" x="621" y="459 501.8 544.5 587.3 630">オール麻布</text></g>
<g id="team-39"><text class="n" x="637" y="403">39</text><text class="v" x="637" y="413 437">府中</text><text class="v" x="637" y="459 476.1 493.2 510.3 527.4 544.5 561.6 578.7 595.8 612.9 630">二小ブラックイーグルス</text></g>
<g id="team-40"><text class="n" x="652" y="403">40</text><text class="v" x="652" y="413 437">国立</text><text class="v" x="652" y="459 476.1 493.2 510.3 527.4 544.5 561.6 578.7 595.8 612.9 630">国立ヤングスワローズA</text></g>
<g id="team-41"><text class="n" x="668" y="403">41</text><text class="v" x="668" y="413 437">荒川</text><text class="v" x="668" y="459 480.4 501.8 523.1 544.5 565.9 587.3 608.6 630">トゥールスジュニア</text></g>
<g id="team-42"><text class="n" x="684" y="403">42</text><text class="v" x="684" y="413 437">町田</text><text class="v" x="684" y="459 483.4 507.9 532.3 556.7 581.1 605.6 630">ブルーウィングス</text></g>
<g id="team-43"><text class="n" x="699" y="403">43</text><text class="v" x="699" y="413 437">大田</text><text class="v" x="699" y="459 487.5 516 544.5 573 601.5 630">ゼットタイガー</text></g>
<g id="team-44"><text class="n" x="715" y="403">44</text><text class="v" x="715" y="413 437">日野</text><text class="v" x="715" y="459 480.4 501.8 523.1 544.5 565.9 587.3 608.6 630">旭が丘エンジェルス</text></g>
<g id="team-45"><text class="n" x="731" y="403">45</text><text class="v" x="731" y="413 425 437">西東京</text><text class="v" x="731" y="459 480.4 501.8 523.1 544.5 565.9 587.3 608.6 630">けやきスラッガーズ</text></g>
<g id="team-46"><text class="n" x="746" y="403">46</text><text class="v" x="746" y="413 437">稲城</text><text class="v" x="746" y="459 487.5 516 544.5 573 601.5 630">若葉台フレンズ</text></g>
<g id="team-47"><text class="n" x="762" y="403">47</text><text class="v" x="762" y="413 425 437">世田谷</text><text class="v" x="762" y="459 480.4 501.8 523.1 544.5 565.9 587.3 608.6 630">リトルジャイアンツ</text></g>
<g id="team-48"><text class="n" x="778" y="403">48</text><text class="v" x="778" y="413 437">豊島</text><text class="v" x="778" y="459 483.4 507.9 532.3 556.7 581.1 605.6 630">西巣鴨イーグルス</text></g>
<g id="team-49"><text class="n" x="793" y="403">49</text><text class="v" x="793" y="413 437">足立</text><text class="v" x="793" y="459 487.5 516 544.5 573 601.5 630">カバラホークス</text></g>
<g id="team-50"><text class="n" x="809" y="403">50</text><text class="v" x="809" y="413 437">板橋</text><text class="v" x="809" y="459 483.4 507.9 532.3 556.7 581.1 605.6 630">高島平ブラザーズ</text></g>
<g id="team-51"><text class="n" x="824" y="403">51</text><text class="v" x="824" y="413 425 437">国分寺</text><text class="v" x="824" y="459 478 497 516 535 554 573 592 611 630">国分寺スカイホークス</text></g>
<g id="team-52"><text class="n" x="845" y="403">52</text><text class="v" x="845" y="413 437">江東</text><text class="v" x="845" y="459 487.5 516 544.5 573 601.5 630">潮見パワーズA</text></g>
<g id="team-53"><text class="n" x="860" y="403">53</text><text class="v" x="860" y="413 437">三鷹</text><text class="v" x="860" y="459 487.5 516 544.5 573 601.5 630">連雀スパローズ</text></g>
<g id="team-54"><text class="n" x="876" y="403">54</text><text class="v" x="876" y="413 425 437">武蔵野</text><text class="v" x="876" y="459 476.1 493.2 510.3 527.4 544.5 561.6 578.7 595.8 612.9 630">武蔵野エースハンターズ</text></g>
<g id="team-55"><text class="n" x="892" y="403">55</text><text class="v" x="892" y="413 437">昭島</text><text class="v" x="892" y="459 487.5 516 544.5 573 601.5 630">光華グリーンズ</text></g>
<g id="team-56"><text class="n" x="908" y="403">56</text><text class="v v4" x="908" y="411.5 417.5 423.5 437">東久留米</text><text class="v" x="908" y="459 487.5 516 544.5 573 601.5 630">小山ドラゴンズ</text></g>
<g id="team-57"><text class="n" x="923" y="403">57</text><text class="v" x="923" y="413 437">羽村</text><text class="v" x="923" y="459 478 497 516 535 554 573 592 611 630">小作台少年野球クラブ</text></g>
<g id="team-58"><text class="n" x="939" y="403">58</text><text class="v" x="939" y="425">北</text><text class="v" x="939" y="459 483.4 507.9 532.3 556.7 581.1 605.6 630">ブルースカイズA</text></g>
<g id="team-59"><text class="n" x="954" y="403">59</text><text class="v" x="954" y="413 437">中央</text><text class="v" x="954" y="459 483.4 507.9 532.3 556.7 581.1 605.6 630">中央バンディーズ</text></g>
<g id="team-60"><text class="n" x="970" y="403">60</text><text class="v" x="970" y="413 437">渋谷</text><text class="v" x="970" y="459 487.5 516 544.5 573 601.5 630">初台ビクトリー</text></g>
<g id="team-61"><text class="n" x="985" y="403">61</text><text class="v" x="985" y="413 437">品川</text><text class="v" x="985" y="459 493.2 527.4 561.6 595.8 630">旗の台クラブ</text></g>
<g id="team-62"><text class="n" x="1001" y="403">62</text><text class="v" x="1001" y="413 437">杉並</text><text class="v" x="1001" y="459 483.4 507.9 532.3 556.7 581.1 605.6 630">八成野球クラブA</text></g>
</svg>
